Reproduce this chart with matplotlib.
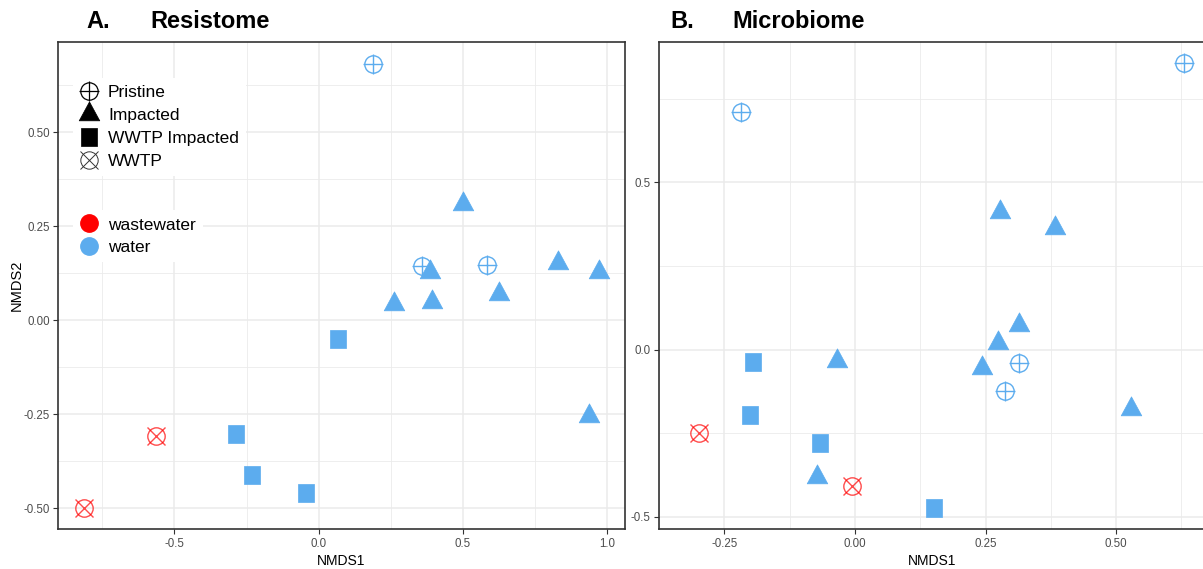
import matplotlib
matplotlib.use("Agg")
import matplotlib.pyplot as plt
from matplotlib.path import Path
from matplotlib.lines import Line2D
import numpy as np

plt.rcParams['font.family'] = ['Liberation Sans', 'DejaVu Sans']

# ---------------- data ----------------
# Panel A: Resistome
a_pristine_x = [0.189, 0.359, 0.585]
a_pristine_y = [0.681, 0.143, 0.147]
a_impacted_x = [0.499, 0.387, 0.828, 0.972, 0.262, 0.394, 0.625, 0.938]
a_impacted_y = [0.308, 0.128, 0.151, 0.128, 0.044, 0.049, 0.071, -0.254]
a_wwtpimp_x = [0.067, -0.286, -0.230, -0.043]
a_wwtpimp_y = [-0.050, -0.302, -0.411, -0.460]
a_wwtp_x = [-0.563, -0.813]
a_wwtp_y = [-0.308, -0.500]

# Panel B: Microbiome
b_pristine_x = [-0.219, 0.630, 0.315, 0.288]
b_pristine_y = [0.709, 0.855, -0.041, -0.123]
b_impacted_x = [0.277, 0.383, 0.315, 0.273, 0.244, -0.035, 0.528, -0.073]
b_impacted_y = [0.412, 0.363, 0.074, 0.021, -0.056, -0.034, -0.178, -0.382]
b_wwtpimp_x = [-0.196, -0.201, -0.066, 0.151]
b_wwtpimp_y = [-0.038, -0.195, -0.280, -0.472]
b_wwtp_x = [-0.299, -0.006]
b_wwtp_y = [-0.250, -0.407]

shape_labels = ["Pristine", "Impacted", "WWTP Impacted", "WWTP"]
colour_labels = ["wastewater", "water"]

a_xticks = [-0.5, 0.0, 0.5, 1.0]
a_xticklabels = ["-0.5", "0.0", "0.5", "1.0"]
a_yticks = [-0.5, -0.25, 0.0, 0.25, 0.5]
a_yticklabels = ["-0.50", "-0.25", "0.00", "0.25", "0.50"]
b_xticks = [-0.25, 0.0, 0.25, 0.5]
b_xticklabels = ["-0.25", "0.00", "0.25", "0.50"]
b_yticks = [-0.5, 0.0, 0.5]
b_yticklabels = ["-0.5", "0.0", "0.5"]

# ---------------- style ----------------
BLUE = '#5CACEE'
RED = '#FF0000'
GRID = '#EBEBEB'

tri_path = Path([(0, 1), (-0.813, -0.5), (0.813, -0.5), (0, 1)],
                [Path.MOVETO, Path.LINETO, Path.LINETO, Path.CLOSEPOLY])
sq_path = Path([(-0.443, -0.5), (0.443, -0.5), (0.443, 0.5), (-0.443, 0.5), (-0.443, -0.5)],
               [Path.MOVETO, Path.LINETO, Path.LINETO, Path.LINETO, Path.CLOSEPOLY])

TRI_MS = 18.2
SQ_MS = 13.2
CIRC_MS = 12.5
PLUS_MS = 13.7
X_MS = 13.5

W, H = 1203, 569
fig = plt.figure(figsize=(W / 100, H / 100), dpi=100)


def px_rect(l, t, r, b):
    return [l / W, 1 - b / H, (r - l) / W, (b - t) / H]


def draw_panel(ax, px, py, ix, iy, sx, sy, wx, wy):
    # pristine: open circle with plus
    ax.plot(px, py, ls='none', marker='o', ms=CIRC_MS, mfc='none', mec=BLUE, mew=1.0, zorder=3)
    ax.plot(px, py, ls='none', marker='+', ms=PLUS_MS, mec=BLUE, mew=1.0, zorder=3)
    # impacted: filled triangle
    ax.plot(ix, iy, ls='none', marker=tri_path, ms=TRI_MS, mfc=BLUE, mec=BLUE, mew=0.5, zorder=4)
    # WWTP impacted: filled square
    ax.plot(sx, sy, ls='none', marker=sq_path, ms=SQ_MS, mfc=BLUE, mec=BLUE, mew=0.5, zorder=4)
    # WWTP: circle with cross
    ax.plot(wx, wy, ls='none', marker='o', ms=CIRC_MS, mfc='none', mec=RED, mew=1.0, alpha=0.7, zorder=3)
    ax.plot(wx, wy, ls='none', marker='x', ms=X_MS, mec=RED, mew=1.0, alpha=0.7, zorder=3)


def style_axes(ax, xt, xtl, yt, ytl, xminor, yminor):
    ax.set_xticks(xt)
    ax.set_xticklabels(xtl)
    ax.set_yticks(yt)
    ax.set_yticklabels(ytl)
    ax.set_xticks(xminor, minor=True)
    ax.set_yticks(yminor, minor=True)
    ax.tick_params(which='major', length=3.5, width=0.8, color='#333333',
                   labelsize=8.3, labelcolor='#4D4D4D', pad=2.5)
    ax.tick_params(which='minor', length=0)
    ax.grid(which='major', color=GRID, lw=1.1, zorder=0)
    ax.grid(which='minor', color=GRID, lw=0.6, zorder=0)
    ax.set_axisbelow(True)
    for s in ax.spines.values():
        s.set_color('#333333')
        s.set_linewidth(1.2)


# Panel A
axA = fig.add_axes(px_rect(58.5, 42.3, 624.5, 529.3))
draw_panel(axA, a_pristine_x, a_pristine_y, a_impacted_x, a_impacted_y,
           a_wwtpimp_x, a_wwtpimp_y, a_wwtp_x, a_wwtp_y)
axA.set_xlim(-0.902, 1.060)
axA.set_ylim(-0.556, 0.739)
style_axes(axA, a_xticks, a_xticklabels, a_yticks, a_yticklabels,
           [-0.75, -0.25, 0.25, 0.75], [-0.375, -0.125, 0.125, 0.375, 0.625])
axA.set_xlabel("NMDS1", fontsize=10, labelpad=3)
axA.set_ylabel("NMDS2", fontsize=10.5)
axA.yaxis.set_label_coords((24 - 58.5) / 566, 0.5)

# Panel B
axB = fig.add_axes(px_rect(659, 42.3, 1206, 529.3))
draw_panel(axB, b_pristine_x, b_pristine_y, b_impacted_x, b_impacted_y,
           b_wwtpimp_x, b_wwtpimp_y, b_wwtp_x, b_wwtp_y)
axB.set_xlim(-0.345, 0.672)
axB.set_ylim(-0.537, 0.918)
style_axes(axB, b_xticks, b_xticklabels, b_yticks, b_yticklabels,
           [-0.375, -0.125, 0.125, 0.375, 0.625], [-0.25, 0.25, 0.75])
axB.set_xlabel("NMDS1", fontsize=10, labelpad=3)

# Legends (panel A)
h_pristine = (Line2D([], [], ls='none', marker='o', ms=CIRC_MS, mfc='none', mec='black', mew=0.9),
              Line2D([], [], ls='none', marker='+', ms=PLUS_MS, mec='black', mew=0.9))
h_impacted = Line2D([], [], ls='none', marker=tri_path, ms=TRI_MS, mfc='black', mec='black', mew=0.5)
h_wwtpimp = Line2D([], [], ls='none', marker=sq_path, ms=SQ_MS, mfc='black', mec='black', mew=0.5)
h_wwtp = (Line2D([], [], ls='none', marker='o', ms=CIRC_MS, mfc='none', mec='#333333', mew=0.7),
          Line2D([], [], ls='none', marker='x', ms=X_MS, mec='#333333', mew=0.7))

leg_kw = dict(loc='upper left', borderaxespad=0, fontsize=12.5, handlelength=1.1,
              handletextpad=0.52, labelspacing=0.45, borderpad=0.4, frameon=True,
              fancybox=False, framealpha=1, edgecolor='none', facecolor='white')

leg1 = axA.legend([h_pristine, h_impacted, h_wwtpimp, h_wwtp], shape_labels,
                  bbox_to_anchor=(0.0256, 0.9263), **leg_kw)
leg1.set_zorder(10)
axA.add_artist(leg1)

h_ww = Line2D([], [], ls='none', marker='o', ms=CIRC_MS, mfc=RED, mec=RED)
h_w = Line2D([], [], ls='none', marker='o', ms=CIRC_MS, mfc=BLUE, mec=BLUE)
leg2 = axA.legend([h_ww, h_w], colour_labels,
                  bbox_to_anchor=(0.0256, 0.6548), **dict(leg_kw, labelspacing=0.4))
leg2.set_zorder(10)

# Titles
ty = 1 - 28.3 / H
fig.text(86 / W, ty, "A.", fontsize=17, fontweight='bold', va='baseline', ha='left')
fig.text(150 / W, ty, "Resistome", fontsize=17, fontweight='bold', va='baseline', ha='left')
fig.text(670 / W, ty, "B.", fontsize=17, fontweight='bold', va='baseline', ha='left')
fig.text(732.7 / W, ty, "Microbiome", fontsize=17, fontweight='bold', va='baseline', ha='left')

fig.savefig("out.png", dpi=100)
